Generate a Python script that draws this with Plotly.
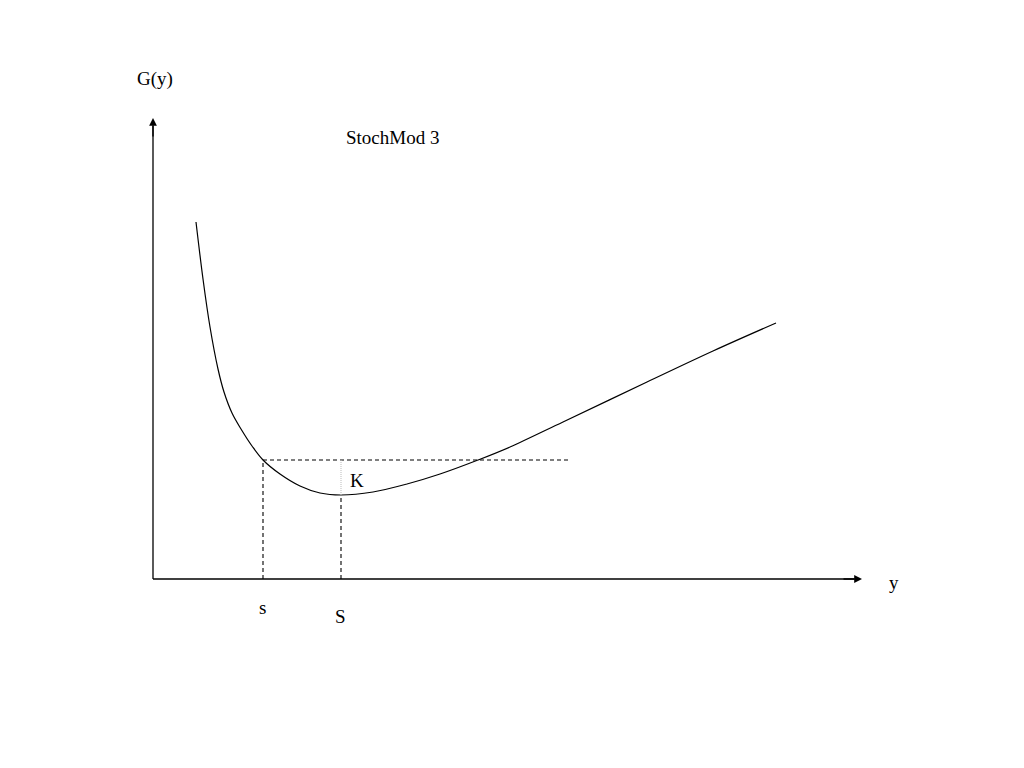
import plotly.graph_objects as go

# Curve G(y) sampled points (data units: origin at the axes corner)
curve_x = [43, 50, 57, 65, 71, 79, 88, 99, 110, 127, 147, 167, 188, 220, 254, 287, 325, 357, 410, 494, 560, 623]
curve_y = [357, 300, 252, 210, 187, 166, 150, 133, 119, 105, 93, 86, 84, 87, 95, 105, 119, 132, 157, 197, 228, 256]

s_val = 110        # reorder point s
S_val = 188        # order-up-to level S (minimum)
G_min = 84         # G(S)
K_level = 119      # G(s) = G(S) + K
h_end = 417        # end of horizontal dashed line
x_axis_end = 709
y_axis_end = 461

title_text = "StochMod 3"
y_label = "G(y)"
x_label = "y"

FONT = "Liberation Serif, Times New Roman, serif"
dash = "4px,3px"

fig = go.Figure()

# axes lines
fig.add_trace(go.Scatter(x=[0, x_axis_end - 8], y=[0, 0], mode="lines",
                         line=dict(color="black", width=1.3), hoverinfo="skip"))
fig.add_trace(go.Scatter(x=[0, 0], y=[0, y_axis_end - 8], mode="lines",
                         line=dict(color="black", width=1.3), hoverinfo="skip"))

# curve
fig.add_trace(go.Scatter(x=curve_x, y=curve_y, mode="lines", line_shape="spline",
                         line=dict(color="black", width=1.2, smoothing=1), hoverinfo="skip"))

# dashed lines
fig.add_trace(go.Scatter(x=[s_val, s_val, h_end], y=[0, K_level, K_level], mode="lines",
                         line=dict(color="black", width=1.1, dash=dash), hoverinfo="skip"))
fig.add_trace(go.Scatter(x=[S_val, S_val], y=[0, G_min], mode="lines",
                         line=dict(color="black", width=1.1, dash=dash), hoverinfo="skip"))
fig.add_trace(go.Scatter(x=[S_val, S_val], y=[G_min, K_level], mode="lines",
                         line=dict(color="#bbbbbb", width=1, dash="1px,1px"), hoverinfo="skip"))

# arrowheads
fig.add_annotation(x=x_axis_end, y=0, ax=x_axis_end - 20, ay=0, axref="x", ayref="y",
                   xref="x", yref="y", showarrow=True, arrowhead=2, arrowsize=1.2,
                   arrowwidth=1.3, arrowcolor="black", text="")
fig.add_annotation(x=0, y=y_axis_end, ax=0, ay=y_axis_end - 20, axref="x", ayref="y",
                   xref="x", yref="y", showarrow=True, arrowhead=2, arrowsize=1.2,
                   arrowwidth=1.3, arrowcolor="black", text="")

tfont = dict(family=FONT, size=19, color="black")
texts = [
    (y_label, 2, 500),
    (title_text, 239, 442),
    (x_label, 741, -3),
    ("s", s_val - 1, -28),
    ("S", S_val - 1, -37),
    ("K", 204, 99),
]
for t, x, y in texts:
    fig.add_annotation(x=x, y=y, xref="x", yref="y", text=t, showarrow=False, font=tfont)

fig.update_layout(
    width=1024, height=768,
    margin=dict(l=0, r=0, t=0, b=0),
    paper_bgcolor="white", plot_bgcolor="white",
    showlegend=False,
    xaxis=dict(range=[-145, 879], visible=False, fixedrange=True),
    yaxis=dict(range=[-197, 571], visible=False, fixedrange=True),
)

fig.write_html("out.html")
